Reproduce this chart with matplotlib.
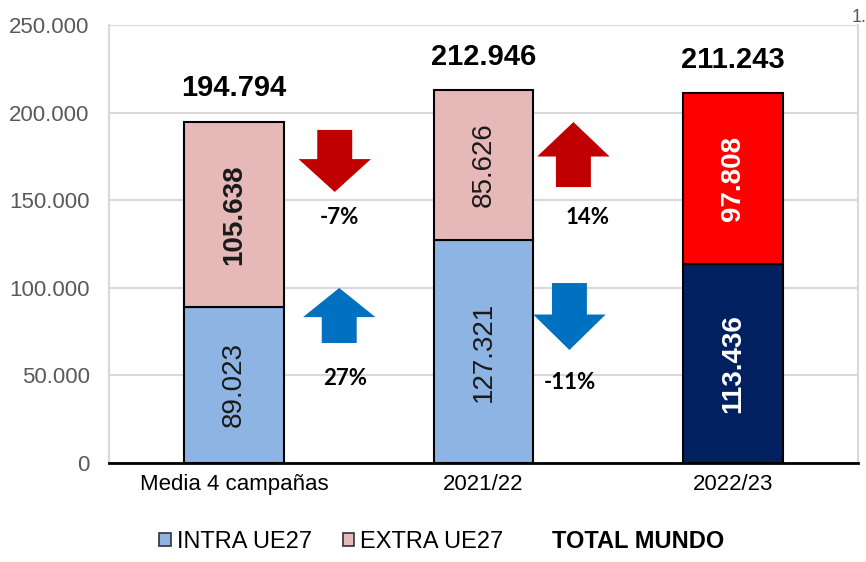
import numpy as np
import matplotlib.pyplot as plt
from matplotlib.patches import Patch, Polygon

# data
categories = ["Media 4 campañas", "2021/22", "2022/23"]
intra = [89023, 127321, 113436]
extra = [105638, 85626, 97808]
totals = [194794, 212946, 211243]
intra_colors = ["#8EB4E3", "#8EB4E3", "#002060"]
extra_colors = ["#E6B9B8", "#E6B9B8", "#FF0000"]
intra_labels = ["89.023", "127.321", "113.436"]
extra_labels = ["105.638", "85.626", "97.808"]
total_labels = ["194.794", "212.946", "211.243"]
yticks = [0, 50000, 100000, 150000, 200000, 250000]
ytick_labels = ["0", "50.000", "100.000", "150.000", "200.000", "250.000"]

# change arrows: (x centre, tail y, tip y, colour, label, label x, label y)
arrows = [
    (0.404, 190100, 154700, "#C00000", "-7%", 0.424, 140400),
    (0.422, 68500, 99900, "#0070C0", "27%", 0.444, 48500),
    (1.360, 157500, 194600, "#C00000", "14%", 1.416, 140400),
    (1.344, 102700, 64500, "#0070C0", "-11%", 1.344, 45700),
]

plt.rcParams['font.family'] = ['Liberation Sans', 'DejaVu Sans']

fig = plt.figure(figsize=(8.66, 5.62), dpi=100)
ax = fig.add_axes([0.1259, 0.1762, 0.8649, 0.7793])

x = np.arange(len(categories))
w = 0.4
ax.bar(x, intra, w, color=intra_colors, edgecolor="black", linewidth=1.5, zorder=3)
ax.bar(x, extra, w, bottom=intra, color=extra_colors, edgecolor="black", linewidth=1.5, zorder=3)

# labels in bars
for i in range(len(x)):
    white = i == 2
    col = "white" if white else "#1a1a1a"
    ax.text(x[i], intra[i] / 2, intra_labels[i], rotation=90, ha="center", va="center",
            fontsize=20, color=col, fontweight="bold" if white else "normal", zorder=4)
    ax.text(x[i], intra[i] + extra[i] / 2, extra_labels[i], rotation=90, ha="center", va="center",
            fontsize=20, color=col, fontweight="bold" if (white or i == 0) else "normal", zorder=4)
    ax.text(x[i], totals[i] + 11000, total_labels[i], ha="center", va="bottom",
            fontsize=21, fontweight="bold", color="black", zorder=4)

# arrows
for cx, tail, tip, col, lab, lx, ly in arrows:
    span = tip - tail
    base = tail + span * 0.47
    hw, sw = 0.145, 0.07
    pts = [(cx - sw, tail), (cx + sw, tail), (cx + sw, base), (cx + hw, base),
           (cx, tip), (cx - hw, base), (cx - sw, base)]
    ax.add_patch(Polygon(pts, closed=True, facecolor=col, edgecolor="none", zorder=3))
    ax.text(lx, ly, lab, ha="center", va="center", fontsize=16, fontweight="bold",
            family=["Lato", "DejaVu Sans"], color="black", zorder=4)

ax.set_xlim(-0.5, 2.5)
ax.set_ylim(0, 250000)
ax.set_xticks(x)
ax.set_xticklabels(categories, fontsize=16)
ax.set_yticks(yticks)
ax.set_yticklabels(ytick_labels, fontsize=16, color="#595959")
ax.tick_params(axis="both", length=0, pad=8)
ax.tick_params(axis="y", pad=14)
ax.grid(axis="y", color="#D9D9D9", linewidth=1.5, zorder=0)
ax.set_axisbelow(True)
for s in ["left", "right", "top"]:
    ax.spines[s].set_color("#D9D9D9")
    ax.spines[s].set_linewidth(1.5)
ax.spines["top"].set_visible(False)
ax.spines["bottom"].set_color("black")
ax.spines["bottom"].set_linewidth(2)

handles = [Patch(facecolor="#8EB4E3", edgecolor="#333333", linewidth=1.2),
           Patch(facecolor="#E6B9B8", edgecolor="#333333", linewidth=1.2),
           Patch(facecolor="none", edgecolor="none")]
leg = fig.legend(handles, ["INTRA UE27", "EXTRA UE27", "TOTAL MUNDO"], ncol=3,
                 loc="center", bbox_to_anchor=(0.51, 0.037), frameon=False, fontsize=17,
                 handlelength=0.5, handleheight=0.5, handletextpad=0.25, columnspacing=1.3)
leg.get_texts()[2].set_fontweight("bold")

fig.text(0.983, 0.968, "1.", fontsize=13, color="#595959", ha="left", va="center")

plt.savefig("out.png", dpi=100)
